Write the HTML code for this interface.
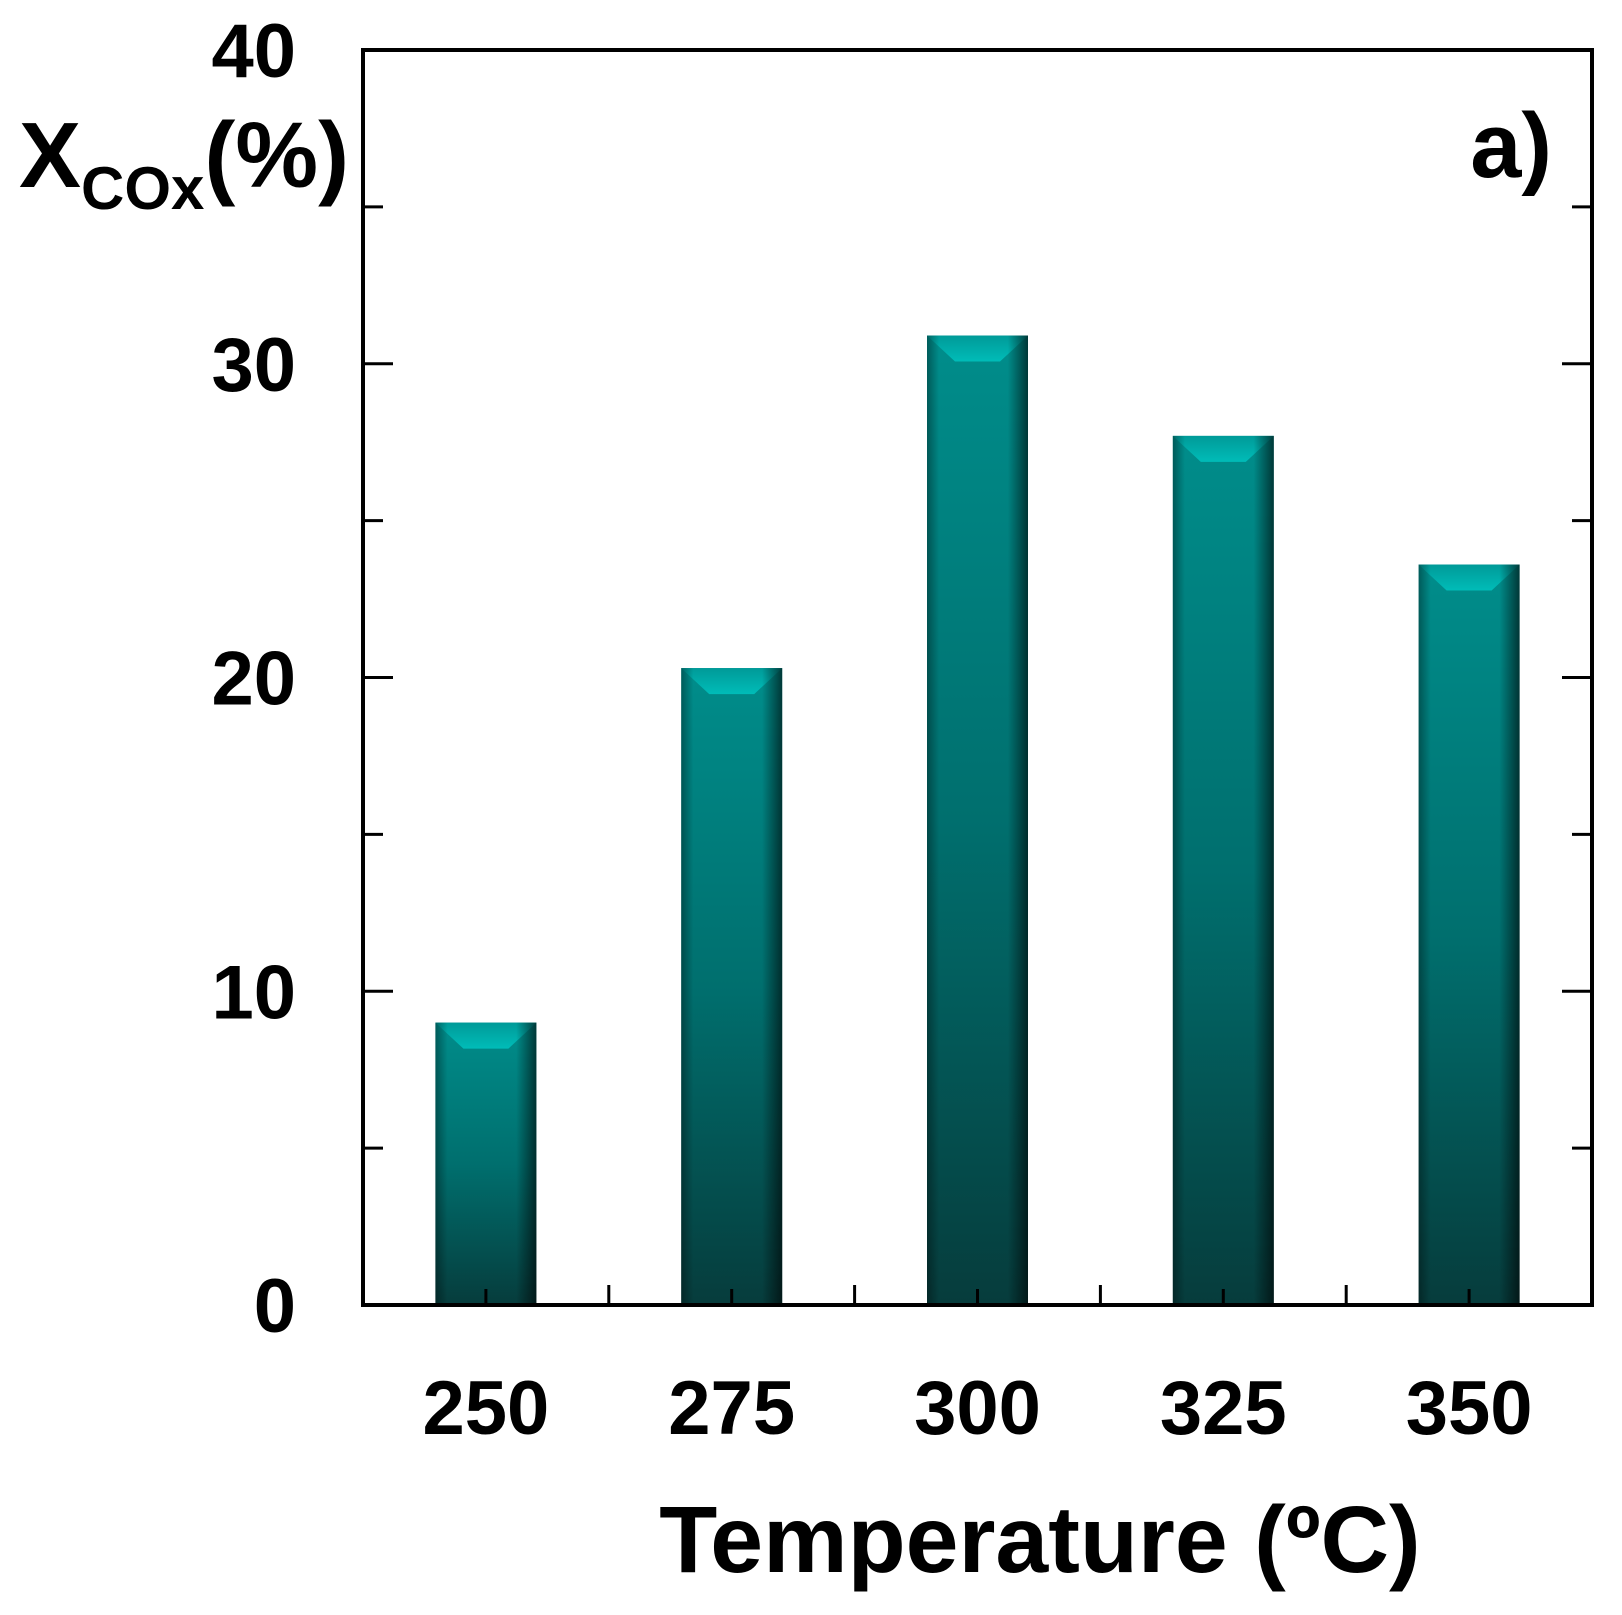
<!DOCTYPE html>
<html><head><meta charset="utf-8"><style>
html,body{margin:0;padding:0;background:#fff;}
svg{display:block;font-family:"Liberation Sans",Arial,sans-serif;}
</style></head><body>
<svg id="chart" width="1622" height="1615" viewBox="0 0 1622 1615">
<defs>
<linearGradient id="vg" x1="0" y1="0" x2="0" y2="1">
<stop offset="0" stop-color="#008d8b"/><stop offset="0.5" stop-color="#006f6e"/><stop offset="1" stop-color="#063c3c"/>
</linearGradient>
<linearGradient id="hg" x1="0" y1="0" x2="1" y2="0">
<stop offset="0" stop-color="#000" stop-opacity="0.35"/><stop offset="0.12" stop-color="#000" stop-opacity="0"/>
<stop offset="0.8" stop-color="#000" stop-opacity="0"/><stop offset="1" stop-color="#000" stop-opacity="0.6"/>
</linearGradient>
<linearGradient id="tg" x1="0" y1="0" x2="0" y2="1">
<stop offset="0" stop-color="#009a98"/><stop offset="1" stop-color="#00bcb8"/>
</linearGradient>
</defs>
<g id="bars"></g>
<g id="axes"></g>
<text x="19" y="187" font-size="93" font-weight="bold">X<tspan font-size="60" dy="22">COx</tspan><tspan dy="-22">(%)</tspan></text>
<text x="1552" y="177" font-size="92" font-weight="bold" text-anchor="end">a)</text>
<text x="1040" y="1572" font-size="95" font-weight="bold" text-anchor="middle">Temperature (ºC)</text>
</svg>
<script>
const categories = ["250","275","300","325","350"];
const values = [9.0, 20.3, 30.9, 27.7, 23.6];
const yTicks = [0,10,20,30,40];
const NS="http://www.w3.org/2000/svg";
const L=363,R=1592,T=50,B=1305,yMax=40;
const y=v=>B-(v/yMax)*(B-T);
const band=(R-L)/categories.length;
const xc=i=>L+band*(i+0.5);
const bw=101;
function mk(tag,attrs,parent){const e=document.createElementNS(NS,tag);for(const k in attrs)e.setAttribute(k,attrs[k]);parent.appendChild(e);return e;}
const bars=document.getElementById('bars'),axes=document.getElementById('axes');
values.forEach((v,i)=>{
  const x0=xc(i)-bw/2,yt=y(v);
  const g=mk('g',{},bars);
  
  
  mk('rect',{x:x0,y:yt,width:bw,height:B-yt,fill:'url(#vg)'},g);
  mk('polygon',{points:`${x0},${yt} ${x0+bw},${yt} ${x0+bw-28},${yt+26} ${x0+28},${yt+26}`,fill:'url(#tg)'},g);
  mk('rect',{x:x0,y:yt,width:bw,height:B-yt,fill:'url(#hg)'},g);
});
mk('rect',{x:L,y:T,width:R-L,height:B-T,fill:'none',stroke:'#000','stroke-width':4},axes);
for(let v=0;v<=yMax;v+=5){
  const len=v%10===0?30:20, yy=y(v);
  mk('line',{x1:L,x2:L+len,y1:yy,y2:yy,stroke:'#000','stroke-width':3},axes);
  mk('line',{x1:R,x2:R-len,y1:yy,y2:yy,stroke:'#000','stroke-width':3},axes);
}
yTicks.forEach(t=>{
  const tx=mk('text',{x:296,y:y(t)+27,'font-size':76,'font-weight':'bold','text-anchor':'end'},axes);
  tx.textContent=t;
  
  
});
categories.forEach((c,i)=>{
  mk('line',{x1:xc(i),x2:xc(i),y1:B,y2:B-16,stroke:'#000','stroke-width':3},axes);
  if(i>0) mk('line',{x1:L+band*i,x2:L+band*i,y1:B,y2:B-20,stroke:'#000','stroke-width':3},axes);
  const tx=mk('text',{x:xc(i),y:1434,'font-size':76,'font-weight':'bold','text-anchor':'middle'},axes);
  tx.textContent=c;
  
  
});
</script>
</body></html>
